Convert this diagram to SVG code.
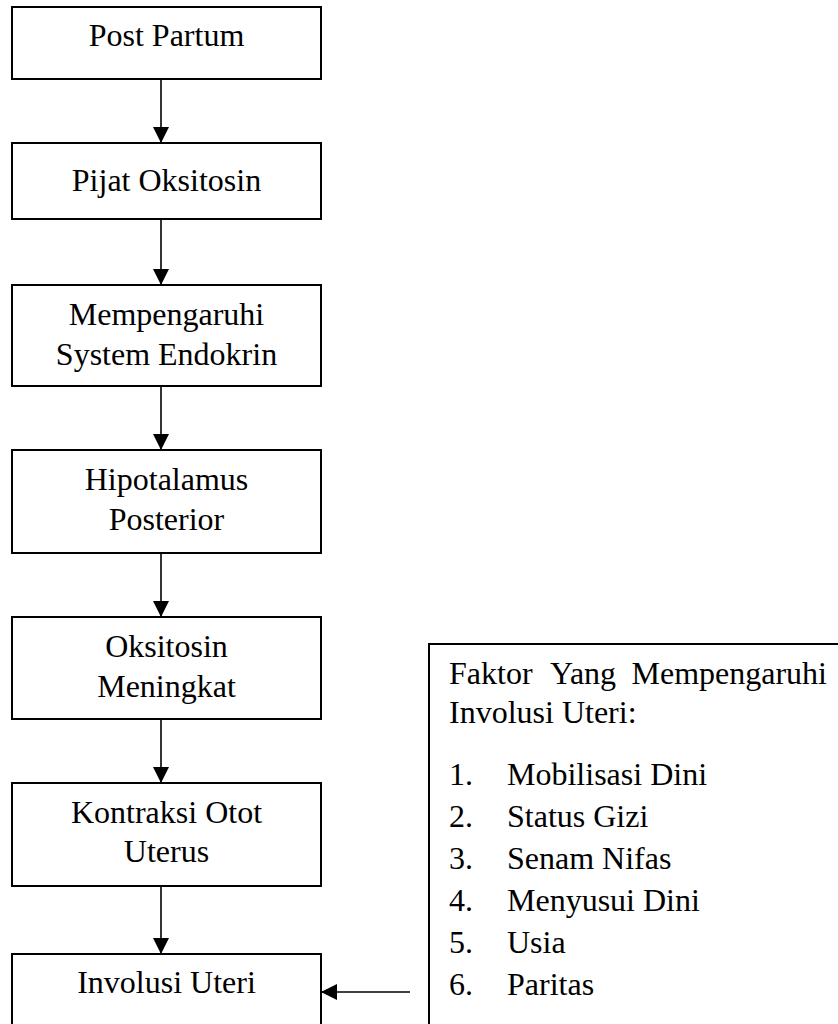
<svg xmlns="http://www.w3.org/2000/svg" width="838" height="1024" viewBox="0 0 838 1024">
<style>
.box{fill:#fff;stroke:#000;stroke-width:2}
.t{font-family:'Liberation Serif','Times New Roman','DejaVu Serif',serif;font-size:32px;fill:#000}
.c{text-anchor:middle}
.ln{stroke:#000;stroke-width:1.6;fill:none}
</style>
<defs>
<marker id="ah" markerWidth="16" markerHeight="16" viewBox="0 0 16 16" refX="16" refY="8" orient="auto" markerUnits="userSpaceOnUse">
<path d="M0,0 L16,8 L0,16 Z" fill="#000"/>
</marker>
</defs>
<rect width="838" height="1024" fill="#fff"/>
<g id="n1"><rect class="box" x="12" y="7" width="309" height="72"/><text class="t c" x="166.5" y="46" font-family="Liberation Serif, serif">Post Partum</text></g>
<g id="n2"><rect class="box" x="12" y="143" width="309" height="76"/><text class="t c" x="166.5" y="191">Pijat Oksitosin</text></g>
<g id="n3"><rect class="box" x="12" y="285" width="309" height="101"/><text class="t c" x="166.5" y="325">Mempengaruhi</text><text class="t c" x="166.5" y="365">System Endokrin</text></g>
<g id="n4"><rect class="box" x="12" y="450" width="309" height="103"/><text class="t c" x="166.5" y="490">Hipotalamus</text><text class="t c" x="166.5" y="530">Posterior</text></g>
<g id="n5"><rect class="box" x="12" y="617" width="309" height="102"/><text class="t c" x="166.5" y="657">Oksitosin</text><text class="t c" x="166.5" y="697">Meningkat</text></g>
<g id="n6"><rect class="box" x="12" y="783" width="309" height="103"/><text class="t c" x="166.5" y="823">Kontraksi Otot</text><text class="t c" x="166.5" y="862">Uterus</text></g>
<g id="n7"><rect class="box" x="12" y="954" width="309" height="80"/><text class="t c" x="166.5" y="993">Involusi Uteri</text></g>
<g id="n8"><rect class="box" x="429" y="644" width="420" height="400"/>
<text class="t" x="449" y="684">Faktor</text><text class="t" x="550" y="684">Yang</text><text class="t" x="827" y="684" text-anchor="end">Mempengaruhi</text>
<text class="t" x="449" y="723">Involusi Uteri:</text>
<text class="t" x="449" y="785">1.</text><text class="t" x="507" y="785">Mobilisasi Dini</text>
<text class="t" x="449" y="827">2.</text><text class="t" x="507" y="827">Status Gizi</text>
<text class="t" x="449" y="869">3.</text><text class="t" x="507" y="869">Senam Nifas</text>
<text class="t" x="449" y="911">4.</text><text class="t" x="507" y="911">Menyusui Dini</text>
<text class="t" x="449" y="953">5.</text><text class="t" x="507" y="953">Usia</text>
<text class="t" x="449" y="995">6.</text><text class="t" x="507" y="995">Paritas</text>
</g>
<g id="connectors">
<line class="ln" x1="161" y1="79" x2="161" y2="143" marker-end="url(#ah)"/>
<line class="ln" x1="161" y1="219" x2="161" y2="285" marker-end="url(#ah)"/>
<line class="ln" x1="161" y1="386" x2="161" y2="450" marker-end="url(#ah)"/>
<line class="ln" x1="161" y1="553" x2="161" y2="617" marker-end="url(#ah)"/>
<line class="ln" x1="161" y1="719" x2="161" y2="783" marker-end="url(#ah)"/>
<line class="ln" x1="161" y1="886" x2="161" y2="954" marker-end="url(#ah)"/>
<line class="ln" x1="410" y1="992" x2="321" y2="992" marker-end="url(#ah)"/>
</g>
</svg>
